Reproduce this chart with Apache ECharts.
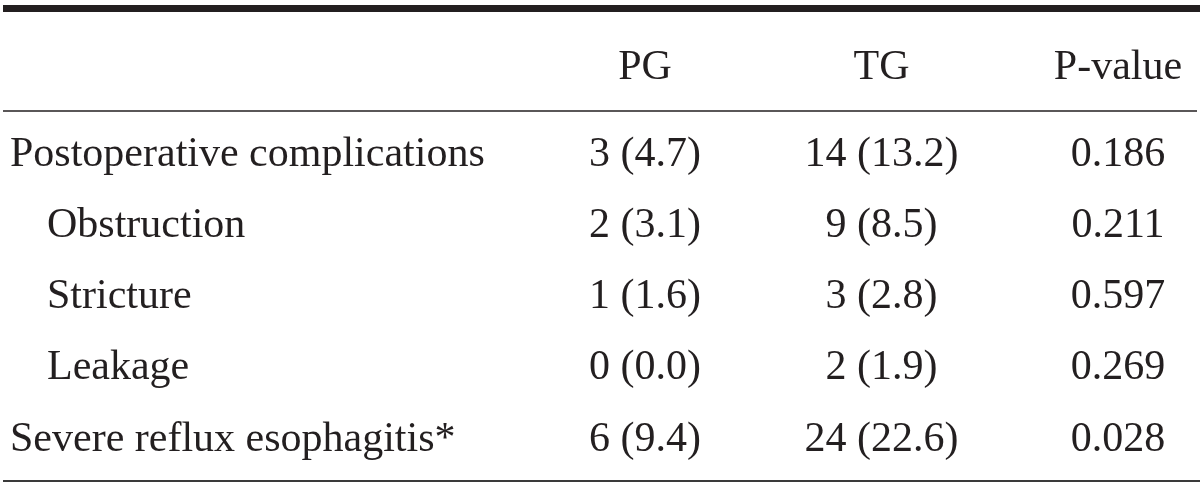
<!DOCTYPE html>
<html>
<head>
<meta charset="utf-8">
<script src="https://cdn.jsdelivr.net/npm/echarts@6/dist/echarts.min.js"></script>
<style>
html,body{margin:0;padding:0;background:#fff;}
#chart{width:1200px;height:483px;}
</style>
</head>
<body>
<div id="chart"></div>
<script>
// ---- data ----
const rowLabels = ['Postoperative complications', 'Obstruction', 'Stricture', 'Leakage', 'Severe reflux esophagitis*'];
const rowIndent = [0, 1, 1, 1, 0];
const columns = ['PG', 'TG', 'P-value'];
const pgCount = [3, 2, 1, 0, 6];
const pgPct = [4.7, 3.1, 1.6, 0.0, 9.4];
const tgCount = [14, 9, 3, 2, 24];
const tgPct = [13.2, 8.5, 2.8, 1.9, 22.6];
const pValues = [0.186, 0.211, 0.597, 0.269, 0.028];

// ---- build ----
const FONT = '"Liberation Serif", "DejaVu Serif", serif';
const INK = '#231f20';
const FS = 42;

const cellText = [
  rowLabels.map((_, i) => pgCount[i] + ' (' + pgPct[i].toFixed(1) + ')'),
  rowLabels.map((_, i) => tgCount[i] + ' (' + tgPct[i].toFixed(1) + ')'),
  rowLabels.map((_, i) => pValues[i].toFixed(3))
];

const series = columns.map((col, c) => ({
  type: 'scatter',
  name: col,
  symbolSize: 0,
  silent: true,
  itemStyle: {opacity: 1},
  emphasis: {disabled: true},
  data: rowLabels.map((r, i) => [col, r]),
  label: {
    show: true,
    position: 'inside',
    align: 'center',
    verticalAlign: 'middle',
    fontFamily: FONT,
    fontSize: FS,
    color: INK,
    opacity: 1,
    formatter: p => cellText[c][p.dataIndex]
  }
}));

const chart = echarts.init(document.getElementById('chart'), null, {renderer: 'canvas'});
chart.setOption({
  animation: false,
  backgroundColor: '#fff',
  grid: {left: 645, right: 82, top: 154.5, bottom: 43.5, containLabel: false},
  xAxis: {
    type: 'category',
    data: columns,
    position: 'top',
    boundaryGap: false,
    axisLine: {show: false},
    axisTick: {show: false},
    splitLine: {show: false},
    axisLabel: {
      interval: 0,
      margin: 87,
      verticalAlign: 'middle',
      fontFamily: FONT,
      fontSize: FS,
      color: INK
    }
  },
  yAxis: {
    type: 'category',
    data: rowLabels,
    inverse: true,
    boundaryGap: false,
    axisLine: {show: false},
    axisTick: {show: false},
    splitLine: {show: false},
    axisLabel: {
      interval: 0,
      margin: 635,
      align: 'left',
      verticalAlign: 'middle',
      fontFamily: FONT,
      fontSize: FS,
      color: INK,
      formatter: (v, i) => (rowIndent[i] ? '{ind|' + v + '}' : '{base|' + v + '}'),
      rich: {
        base: {fontFamily: FONT, fontSize: FS, color: INK},
        ind: {fontFamily: FONT, fontSize: FS, color: INK, padding: [0, 0, 0, 37]}
      }
    }
  },
  graphic: [
    {type: 'line', silent: true, shape: {x1: 3, y1: 8.5, x2: 1200, y2: 8.5}, style: {stroke: INK, lineWidth: 7}},
    {type: 'line', silent: true, shape: {x1: 3, y1: 111, x2: 1197, y2: 111}, style: {stroke: INK, lineWidth: 1.5}},
    {type: 'line', silent: true, shape: {x1: 3, y1: 481, x2: 1200, y2: 481}, style: {stroke: '#3a3a3a', lineWidth: 2}}
  ],
  series: series
});
</script>
</body>
</html>
